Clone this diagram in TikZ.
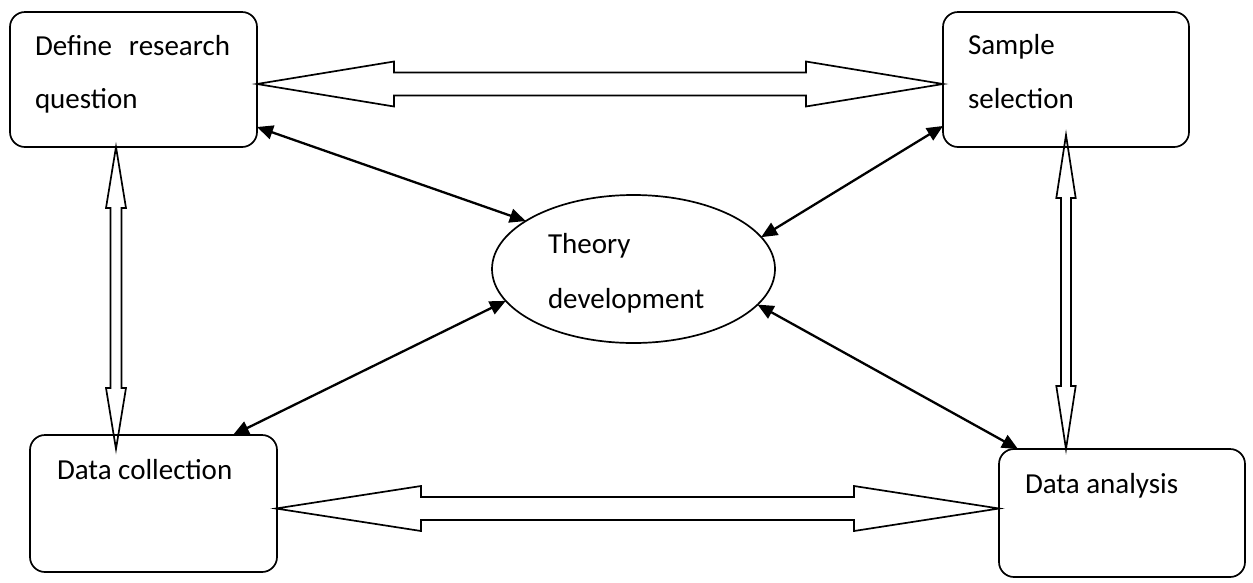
\documentclass[tikz,border=0pt]{standalone}
\usepackage{fontspec}
\setmainfont{Carlito}
\usetikzlibrary{calc,arrows.meta,shapes.geometric}
% horizontal block double arrow: #1 left tip, #2 right tip, #3 head length, #4 head half width, #5 shaft half width
\newcommand\hblk[5]{%
  \draw[blk] (#1) -- ($(#1)+(#3,-#4)$) -- ($(#1)+(#3,-#5)$) -- ($(#2)+(-#3,-#5)$) -- ($(#2)+(-#3,-#4)$) -- (#2)
    -- ($(#2)+(-#3,#4)$) -- ($(#2)+(-#3,#5)$) -- ($(#1)+(#3,#5)$) -- ($(#1)+(#3,#4)$) -- cycle;}
% vertical block double arrow: #1 top tip, #2 bottom tip
\newcommand\vblk[5]{%
  \draw[blk] (#1) -- ($(#1)+(#4,#3)$) -- ($(#1)+(#5,#3)$) -- ($(#2)+(#5,-#3)$) -- ($(#2)+(#4,-#3)$) -- (#2)
    -- ($(#2)+(-#4,-#3)$) -- ($(#2)+(-#5,-#3)$) -- ($(#1)+(-#5,#3)$) -- ($(#1)+(-#4,#3)$) -- cycle;}
\begin{document}
\begin{tikzpicture}[x=1pt,y=-1pt,
  box/.style={draw,line width=1.7pt,rounded corners=15pt,inner sep=0pt,outer sep=0pt},
  lbl/.style={inner sep=0pt,outer sep=0pt,anchor=base west,font=\fontsize{29}{35}\selectfont},
  con/.style={line width=2.3pt,{Triangle[length=16pt,width=14pt]}-{Triangle[length=16pt,width=14pt]}},
  blk/.style={draw,line width=1.7pt,line join=miter}]
\useasboundingbox (0,0) rectangle (1253,582);
% boxes
\node[box,minimum width=247pt,minimum height=135pt] (b1) at (133.5,79.5) {};
\node[box,minimum width=246pt,minimum height=135pt] (b2) at (1066,79.5) {};
\node[box,minimum width=247pt,minimum height=137pt] (b3) at (153.5,503.5) {};
\node[box,minimum width=246pt,minimum height=128pt] (b4) at (1122,513) {};
\node[draw,ellipse,line width=1.7pt,minimum width=283pt,minimum height=148pt,inner sep=0pt,outer sep=0pt] (th) at (633.5,269) {};
% labels
\node[lbl] (t1a) at (35,55) {\hbox to 195pt{Define\hfill research}};
\node[lbl] (t1b) at (35,108) {question};
\node[lbl] (t2a) at (968,54) {Sample};
\node[lbl] (t2b) at (968,108) {selection};
\node[lbl] (t3) at (57,479.5) {Data collection};
\node[lbl] (t4) at (1025,493) {Data analysis};
\node[lbl] (t5a) at (548,253.5) {Theory};
\node[lbl] (t5b) at (548,308) {development};
% block arrow end points
\coordinate (tA) at ($(b1.east)+(0,4.5)$);
\coordinate (tB) at ($(b2.west)+(0,4.5)$);
\coordinate (bA) at ($(b3.east)+(-1,5)$);
\coordinate (bB) at (bA -| b4.west);
\coordinate (lA) at ($(b1.south west)+(106,0)$);
\coordinate (lB) at ($(lA |- b3.north)+(0,14)$);
\coordinate (rA) at ($(b2.south)+(0,-12)$);
\coordinate (rB) at (rA |- b4.north);
\hblk{tA}{tB}{137}{22.5}{11.5}
\hblk{bA}{bB}{145}{22.5}{11.5}
\vblk{lA}{lB}{61}{10}{5.5}
\vblk{rA}{rB}{63}{9.7}{5}
% thin connectors
\draw[con] ($(b1.south east)+(0,-20)$) -- (th.156);
\draw[con] ($(b2.south west)+(0,-21)$) -- (th.14);
\draw[con] ($(b3.north east)+(-44,0)$) -- (th.194);
\draw[con] ($(b4.north west)+(19,0)$) -- (th.344);
\end{tikzpicture}
\end{document}
